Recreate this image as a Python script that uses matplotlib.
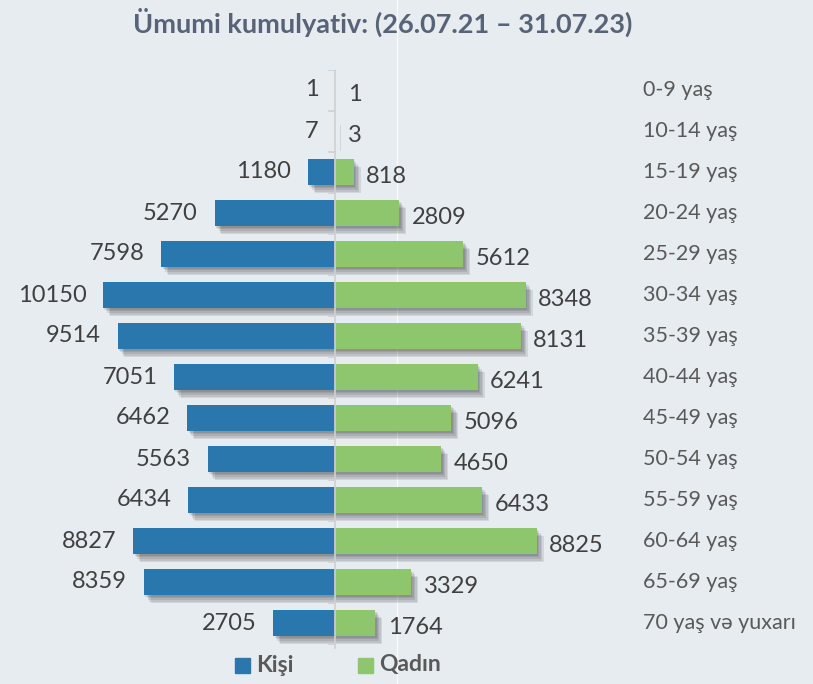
import numpy as np
import matplotlib
matplotlib.use("Agg")
import matplotlib.pyplot as plt
import matplotlib.patheffects as pe
from matplotlib.lines import Line2D
from matplotlib.patches import Rectangle

plt.rcParams['font.family'] = ['Lato', 'DejaVu Sans']

age_groups = ["0-9 yaş", "10-14 yaş", "15-19 yaş", "20-24 yaş", "25-29 yaş",
              "30-34 yaş", "35-39 yaş", "40-44 yaş", "45-49 yaş", "50-54 yaş",
              "55-59 yaş", "60-64 yaş", "65-69 yaş", "70 yaş və yuxarı"]
male = [1, 7, 1180, 5270, 7598, 10150, 9514, 7051, 6462, 5563, 6434, 8827, 8359, 2705]
female = [1, 3, 818, 2809, 5612, 8348, 8131, 6241, 5096, 4650, 6433, 8825, 3329, 1764]
title = "Ümumi kumulyativ: (26.07.21 – 31.07.23)"
legend_labels = ["Kişi", "Qadın"]

BG = "#e6ecf0"
BLUE = "#2a77ad"
GREEN = "#8dc66c"
TXT = "#404040"

W, H = 813, 684
fig = plt.figure(figsize=(W / 100, H / 100), dpi=100, facecolor=BG)

# axes in pixel terms: zero line at x=335, rows from y=90 to y=623
px_per_unit = 232 / 10150
x0 = 335
top_px, bot_px = 70, 650
first_row, last_row = 90, 623
ax = fig.add_axes([0, 1 - bot_px / H, 1, (bot_px - top_px) / H])
ax.set_facecolor(BG)
ax.set_xlim(-x0 / px_per_unit, (W - x0) / px_per_unit)
row = (last_row - first_row) / 13
ax.set_ylim(13 + (bot_px - last_row) / row, -(first_row - top_px) / row)
ax.axis("off")

# faint light line behind the chart
fig.add_artist(Line2D([397 / W, 397 / W], [0, 1], color="white", lw=1.0, alpha=0.8, zorder=0))

y = np.arange(len(age_groups))
shadow = [pe.SimplePatchShadow(offset=(o, -o * 1.2), shadow_rgbFace="#000000", alpha=0.09)
          for o in (1.0, 2.0, 3.0, 4.0, 5.0)] + [pe.Normal()]

ax.barh(y, [-m for m in male], height=0.63, color=BLUE, zorder=3, path_effects=shadow)
ax.barh(y, female, height=0.63, color=GREEN, zorder=3, path_effects=shadow)

# central axis with ticks between groups
ax.plot([0, 0], [-0.5, 13.6], color="#d0d0d0", lw=1.2, zorder=4)
tick_len = 6 / px_per_unit
for b in np.arange(-0.5, 14, 1):
    ax.plot([-tick_len, 0], [b, b], color="#d0d0d0", lw=1.2, zorder=4)

for yi, m, f in zip(y, male, female):
    ax.annotate(str(m), (-m, yi), xytext=(-12, 0), textcoords="offset points",
                ha="right", va="center", fontsize=17, color=TXT)
    ax.annotate(str(f), (f, yi), xytext=(9, -3), textcoords="offset points",
                ha="left", va="center", fontsize=17, color=TXT)

for yi, lab in zip(y, age_groups):
    ax.annotate(lab, (0, yi), xycoords=("figure fraction", "data"),
                xytext=(643 * 0.72, 0), textcoords="offset points",
                ha="left", va="center", fontsize=15.5, color="#595959")

fig.text(383 / W, 1 - 22 / H, title, ha="center", va="center",
         fontsize=19.5, fontweight="bold", color="#586377")

# legend
for (sx, tx), lab, col in zip([(235, 256), (358, 379)], legend_labels, [BLUE, GREEN]):
    fig.add_artist(Rectangle((sx / W, 1 - 673 / H), 15 / W, 15 / H,
                             transform=fig.transFigure, color=col))
    fig.text(tx / W, 1 - 665 / H, lab, ha="left", va="center",
             fontsize=16.5, fontweight="bold", color="#595959")

fig.savefig("out.png", dpi=100, facecolor=BG)
